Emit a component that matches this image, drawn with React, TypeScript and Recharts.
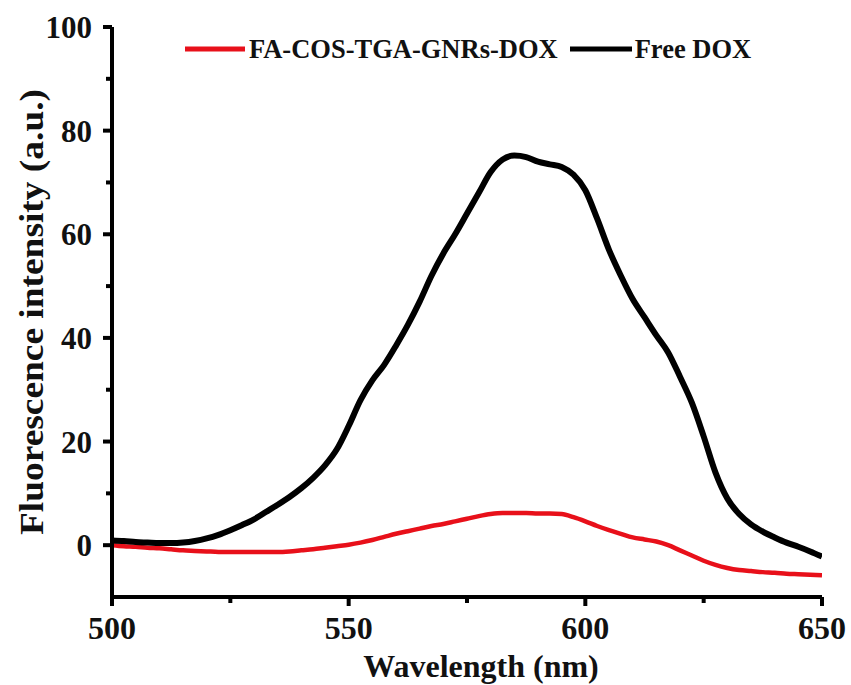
import React from "react";
import { LineChart, Line, XAxis, YAxis } from "recharts";

// wavelength grid (nm), every 2.5 nm
const wavelengths = [
  500, 502.5, 505, 507.5, 510, 512.5, 515, 517.5, 520, 522.5, 525, 527.5, 530, 532.5, 535, 537.5,
  540, 542.5, 545, 547.5, 550, 552.5, 555, 557.5, 560, 562.5, 565, 567.5, 570, 572.5, 575, 577.5,
  580, 582.5, 585, 587.5, 590, 592.5, 595, 597.5, 600, 602.5, 605, 607.5, 610, 612.5, 615, 617.5,
  620, 622.5, 625, 627.5, 630, 632.5, 635, 637.5, 640, 642.5, 645, 647.5, 650,
];

const freeDox = [
  0.9, 0.8, 0.6, 0.5, 0.4, 0.4, 0.5, 0.8, 1.3, 2.0, 2.9, 3.9, 5.0, 6.4, 7.8, 9.3,
  11.0, 13.0, 15.4, 18.5, 23.0, 28.0, 31.8, 34.8, 38.5, 42.5, 47.0, 52.0, 56.3, 60.0, 64.0, 68.0,
  72.0, 74.4, 75.2, 74.9, 74.0, 73.5, 73.0, 71.5, 68.5, 63.0, 57.0, 52.0, 47.5, 44.0, 40.5, 37.2,
  32.5, 27.5, 21.0, 14.0, 9.0, 6.0, 4.0, 2.6, 1.5, 0.5, -0.3, -1.2, -2.2,
];

const faCosDox = [
  0.0, -0.2, -0.3, -0.5, -0.6, -0.8, -1.0, -1.1, -1.2, -1.3, -1.3, -1.3, -1.3, -1.3, -1.3, -1.2,
  -1.0, -0.8, -0.5, -0.2, 0.1, 0.5, 1.0, 1.6, 2.2, 2.7, 3.2, 3.7, 4.1, 4.6, 5.1, 5.6,
  6.0, 6.2, 6.2, 6.2, 6.1, 6.1, 6.0, 5.4, 4.6, 3.7, 2.9, 2.2, 1.5, 1.1, 0.7, 0.0,
  -1.0, -2.0, -3.0, -3.8, -4.4, -4.8, -5.0, -5.2, -5.3, -5.5, -5.6, -5.7, -5.8,
];

const xTicks = [500, 525, 550, 575, 600, 625, 650];
const yTicks = [0, 10, 20, 30, 40, 50, 60, 70, 80, 90, 100];

const data = wavelengths.map((w, i) => ({ w, free: freeDox[i], fa: faCosDox[i] }));

const FONT = '"Liberation Serif", "Times New Roman", serif';

const YTick = (props: any) => {
  const { x, y, payload } = props;
  const major = payload.value % 20 === 0;
  return (
    <g>
      <line x1={x} x2={x - (major ? 9 : 6)} y1={y} y2={y} stroke="#000" strokeWidth={4} />
      {major && (
        <text x={x - 20} y={y} dy={11} textAnchor="end" fontFamily={FONT} fontWeight="bold" fontSize={31} fill="#111">
          {payload.value}
        </text>
      )}
    </g>
  );
};

const XTick = (props: any) => {
  const { x, y, payload } = props;
  const major = payload.value % 50 === 0;
  return (
    <g>
      <line x1={x} x2={x} y1={y} y2={y + (major ? 9 : 6)} stroke="#000" strokeWidth={4} />
      {major && (
        <text x={x} y={y} dy={42} textAnchor="middle" fontFamily={FONT} fontWeight="bold" fontSize={32} fill="#111">
          {payload.value}
        </text>
      )}
    </g>
  );
};

// x title sits a bit right of the plot centre in the original
const XTitle = (props: any) => {
  const { viewBox } = props;
  return (
    <text x={481} y={viewBox.y + 80} textAnchor="middle" fontFamily={FONT} fontWeight="bold" fontSize={32} fill="#111">
      Wavelength (nm)
    </text>
  );
};

// y title is stretched along the axis in the original
const YTitle = (props: any) => {
  const { viewBox } = props;
  const cy = viewBox.y + viewBox.height / 2;
  return (
    <text
      x={32}
      y={cy}
      transform={`rotate(-90, 32, ${cy})`}
      textAnchor="middle"
      dominantBaseline="central"
      fontFamily={FONT}
      fontWeight="bold"
      fontSize={33}
      fill="#111"
      textLength={446}
      lengthAdjust="spacingAndGlyphs"
    >
      Fluorescence intensity (a.u.)
    </text>
  );
};

const LegendBox = () => (
  <div
    style={{
      position: "absolute",
      left: 185,
      top: 34,
      display: "flex",
      alignItems: "center",
      fontFamily: FONT,
      fontWeight: "bold",
      fontSize: 26.5,
      color: "#111",
      whiteSpace: "nowrap",
      lineHeight: "30px",
    }}
  >
    <svg width={60} height={10}><line x1={0} x2={60} y1={5} y2={5} stroke="#e8101a" strokeWidth={5} /></svg>
    <span style={{ marginLeft: 4 }}>FA-COS-TGA-GNRs-DOX</span>
    <svg width={62} height={10} style={{ marginLeft: 12 }}><line x1={0} x2={62} y1={5} y2={5} stroke="#000" strokeWidth={5} /></svg>
    <span style={{ marginLeft: 3 }}>Free DOX</span>
  </div>
);

export default function App() {
  return (
    <div style={{ position: "absolute", left: 0, top: 0, width: 851, height: 685, background: "#fff" }}>
      <LineChart width={851} height={685} data={data} margin={{ top: 27, right: 29, left: 0, bottom: 0 }}>
        <XAxis
          dataKey="w"
          type="number"
          domain={[500, 650]}
          ticks={xTicks}
          allowDataOverflow
          height={88}
          tickSize={0}
          tickMargin={0}
          tickLine={false}
          tick={<XTick />}
          axisLine={{ stroke: "#000", strokeWidth: 4 }}
          label={<XTitle />}
        />
        <XAxis xAxisId="top" dataKey="w" type="number" domain={[500, 650]} orientation="top" height={0} tick={false} tickLine={false} axisLine={{ stroke: "#000", strokeWidth: 4 }} />
        <YAxis
          domain={[-10, 100]}
          ticks={yTicks}
          allowDataOverflow
          width={112}
          tickSize={0}
          tickMargin={0}
          tickLine={false}
          tick={<YTick />}
          axisLine={{ stroke: "#000", strokeWidth: 4 }}
          label={<YTitle />}
        />
        <YAxis yAxisId="right" orientation="right" domain={[-10, 100]} width={0} tick={false} tickLine={false} axisLine={{ stroke: "#000", strokeWidth: 4 }} />
        <Line type="monotone" dataKey="fa" stroke="#e8101a" strokeWidth={4.5} dot={false} isAnimationActive={false} />
        <Line type="monotone" dataKey="free" stroke="#000" strokeWidth={6} dot={false} isAnimationActive={false} />
      </LineChart>
      <LegendBox />
    </div>
  );
}
